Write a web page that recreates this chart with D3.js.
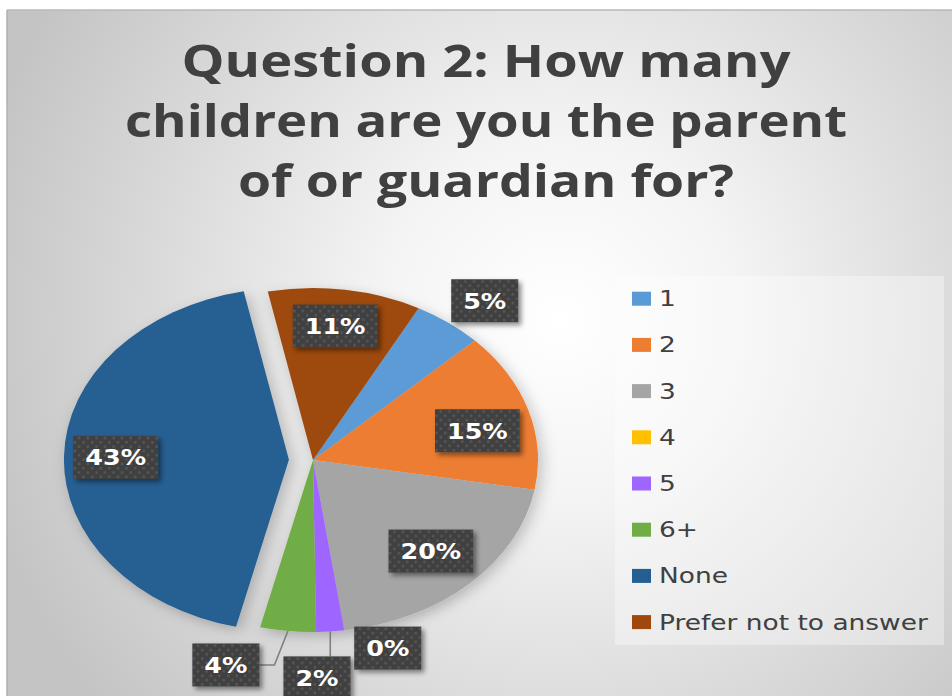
<!DOCTYPE html>
<html>
<head>
<meta charset="utf-8">
<script src="https://cdn.jsdelivr.net/npm/d3@7"></script>
<style>
  html, body { margin: 0; padding: 0; background: #ffffff; }
  svg { display: block; }
</style>
</head>
<body>
<svg id="chart" width="952" height="696"></svg>
<script>
// ---- data ----
const titleLines = ["Question 2: How many", "children are you the parent", "of or guardian for?"];
const categories = ["1", "2", "3", "4", "5", "6+", "None", "Prefer not to answer"];
const values = [5, 15, 20, 0, 2, 4, 43, 11];
const colors = ["#5B9BD5", "#ED7D31", "#A5A5A5", "#FFC000", "#9E66FF", "#70AD47", "#255E91", "#9E480E"];
const explodedCategory = "None";

// ---- layout (styles / positions, not data) ----
const W = 952, H = 696;
const cx = 313, cy = 460, ry = 172, rx = 225;
const sx = rx / ry;
const startDeg = 28;
const explodeFrac = 0.107;
// label placement: radius fraction and angular nudge (deg) relative to slice mid-angle
const labelR = [1.20, 0.75, 0.745, 1.143, 1.267, 1.253, 0.77, 0.785];
const labelShift = [2.5, 3.9, -0.7, -8.9, 3.6, 11.6, 0, -1];
const leaderFor = ["5", "6+"];

const svg = d3.select("#chart");
const defs = svg.append("defs");

// background gradient
const bg = defs.append("radialGradient").attr("id", "bgGrad")
  .attr("gradientUnits", "userSpaceOnUse")
  .attr("cx", 560).attr("cy", 320).attr("r", 600);
bg.append("stop").attr("offset", 0).attr("stop-color", "#ffffff");
bg.append("stop").attr("offset", 0.3).attr("stop-color", "#f4f4f4");
bg.append("stop").attr("offset", 1).attr("stop-color", "#c4c4c4");

// label box pattern
const pat = defs.append("pattern").attr("id", "dots")
  .attr("patternUnits", "userSpaceOnUse").attr("width", 8.6).attr("height", 8.6);
pat.append("rect").attr("width", 8.6).attr("height", 8.6).attr("fill", "#404040");
pat.append("rect").attr("x", 1).attr("y", 1).attr("width", 2.4).attr("height", 2.4).attr("fill", "#585858");
pat.append("rect").attr("x", 5.3).attr("y", 5.3).attr("width", 2.4).attr("height", 2.4).attr("fill", "#585858");

const sh = defs.append("filter").attr("id", "boxShadow")
  .attr("x", "-30%").attr("y", "-30%").attr("width", "160%").attr("height", "160%");
sh.append("feDropShadow").attr("dx", 3).attr("dy", 3).attr("stdDeviation", 2.5)
  .attr("flood-color", "#000").attr("flood-opacity", 0.45);

const psh = defs.append("filter").attr("id", "pieShadow")
  .attr("x", "-20%").attr("y", "-20%").attr("width", "140%").attr("height", "140%");
psh.append("feDropShadow").attr("dx", 3).attr("dy", 4).attr("stdDeviation", 6)
  .attr("flood-color", "#000").attr("flood-opacity", 0.22);

// chart area background
svg.append("rect").attr("x", 7).attr("y", 10).attr("width", W).attr("height", H)
  .attr("fill", "url(#bgGrad)");
svg.append("line").attr("x1", 7).attr("x2", W).attr("y1", 10).attr("y2", 10)
  .attr("stroke", "#b8b8b8").attr("stroke-width", 1.5);
svg.append("line").attr("x1", 7).attr("x2", 7).attr("y1", 10).attr("y2", H)
  .attr("stroke", "#b0b0b0").attr("stroke-width", 1.5);

// title
const titleBaselines = [77, 137, 197];
const titleWidths = [609, 722, 496];
svg.append("g").selectAll("text").data(titleLines).join("text")
  .attr("x", 486).attr("y", (d, i) => titleBaselines[i])
  .attr("text-anchor", "middle")
  .attr("font-family", "'Open Sans', 'Noto Sans', sans-serif")
  .attr("font-weight", "bold").attr("font-size", 45)
  .attr("fill", "#404040")
  .attr("textLength", (d, i) => titleWidths[i])
  .attr("lengthAdjust", "spacingAndGlyphs")
  .text(d => d);

// pie
const total = d3.sum(values);
const pie = d3.pie().sort(null).value(d => d.v)
  .startAngle(startDeg * Math.PI / 180)
  .endAngle(startDeg * Math.PI / 180 + 2 * Math.PI);
const data = categories.map((c, i) => ({ c, v: values[i], i }));
const arcs = pie(data);
const arc = d3.arc().innerRadius(0).outerRadius(ry);
const explode = explodeFrac * ry;

const mid = a => (a.startAngle + a.endAngle) / 2;
const offsetOf = a => a.data.c === explodedCategory
  ? [explode * Math.sin(mid(a)), -explode * Math.cos(mid(a))] : [0, 0];

const pieG = svg.append("g")
  .attr("transform", `translate(${cx},${cy}) scale(${sx},1)`)
  .attr("filter", "url(#pieShadow)");
pieG.selectAll("path").data(arcs.filter(a => a.value > 0)).join("path")
  .attr("transform", a => `translate(${offsetOf(a)[0]},${offsetOf(a)[1]})`)
  .attr("d", arc)
  .attr("fill", a => colors[a.data.i]);

// screen position on ellipse
function pt(a, rFrac, shiftDeg) {
  const ang = mid(a) + (shiftDeg || 0) * Math.PI / 180;
  const o = offsetOf(a);
  return [cx + sx * (o[0] + rFrac * ry * Math.sin(ang)),
          cy + o[1] - rFrac * ry * Math.cos(ang)];
}

// data labels
const fmt = d3.format(".0%");
const labelFont = 21.5, labelStretch = 1.18, boxH = 43, padX = 12;
const lblG = svg.append("g");
const labelInfo = arcs.map(a => {
  const i = a.data.i;
  const [x, y] = pt(a, labelR[i], labelShift[i]);
  return { a, i, x, y, text: fmt(a.value / total) };
});

// measure text widths
const meas = svg.append("text").attr("font-family", "'DejaVu Sans', Verdana, sans-serif")
  .attr("font-weight", "bold").attr("font-size", labelFont);
labelInfo.forEach(d => { meas.text(d.text); d.w = meas.node().getComputedTextLength() * labelStretch + 2 * padX; });
meas.remove();

// leader lines
labelInfo.filter(d => leaderFor.includes(d.a.data.c)).forEach(d => {
  const s = pt(d.a, 1.0, 0);
  const left = d.x - d.w / 2, right = d.x + d.w / 2, top = d.y - boxH / 2;
  let pts;
  if (s[0] >= left && s[0] <= right) {
    pts = [s, [s[0], top]];
  } else if (s[0] > right) {
    pts = [s, [right + 15, d.y], [right, d.y]];
  } else {
    pts = [s, [left - 15, d.y], [left, d.y]];
  }
  lblG.append("path").attr("d", d3.line()(pts))
    .attr("fill", "none").attr("stroke", "#7f7f7f").attr("stroke-width", 1.6);
});

const lab = lblG.selectAll("g.lab").data(labelInfo).join("g").attr("class", "lab")
  .attr("transform", d => `translate(${d.x},${d.y})`);
lab.append("rect")
  .attr("x", d => -d.w / 2).attr("y", -boxH / 2)
  .attr("width", d => d.w).attr("height", boxH)
  .attr("fill", "url(#dots)").attr("filter", "url(#boxShadow)");
lab.append("text")
  .attr("transform", `scale(${labelStretch},1)`)
  .attr("text-anchor", "middle").attr("y", labelFont * 0.365)
  .attr("font-family", "'DejaVu Sans', Verdana, sans-serif")
  .attr("font-weight", "bold").attr("font-size", labelFont)
  .attr("fill", "#ffffff")
  .text(d => d.text);

// legend
const legX = 615, legY = 276, legW = 329, legH = 369;
const legG = svg.append("g");
legG.append("rect").attr("x", legX).attr("y", legY).attr("width", legW).attr("height", legH)
  .attr("fill", "#ffffff").attr("fill-opacity", 0.35);
const legFont = 20.5, itemStep = 46.2, firstY = 298.7;
const measL = svg.append("text").attr("font-family", "'DejaVu Sans', Verdana, sans-serif")
  .attr("font-size", legFont).text(categories[categories.length - 1]);
const legStretch = 269 / measL.node().getComputedTextLength();
measL.remove();
const items = legG.selectAll("g.item").data(categories).join("g").attr("class", "item")
  .attr("transform", (d, i) => `translate(${legX + 17},${firstY + i * itemStep})`);
items.append("rect").attr("x", 0).attr("y", -7).attr("width", 19).attr("height", 14)
  .attr("fill", (d, i) => colors[i]);
items.append("text")
  .attr("transform", `translate(27,0) scale(${legStretch},1)`)
  .attr("y", legFont * 0.365)
  .attr("font-family", "'DejaVu Sans', Verdana, sans-serif")
  .attr("font-size", legFont).attr("fill", "#404040")
  .text(d => d);
</script>
</body>
</html>
